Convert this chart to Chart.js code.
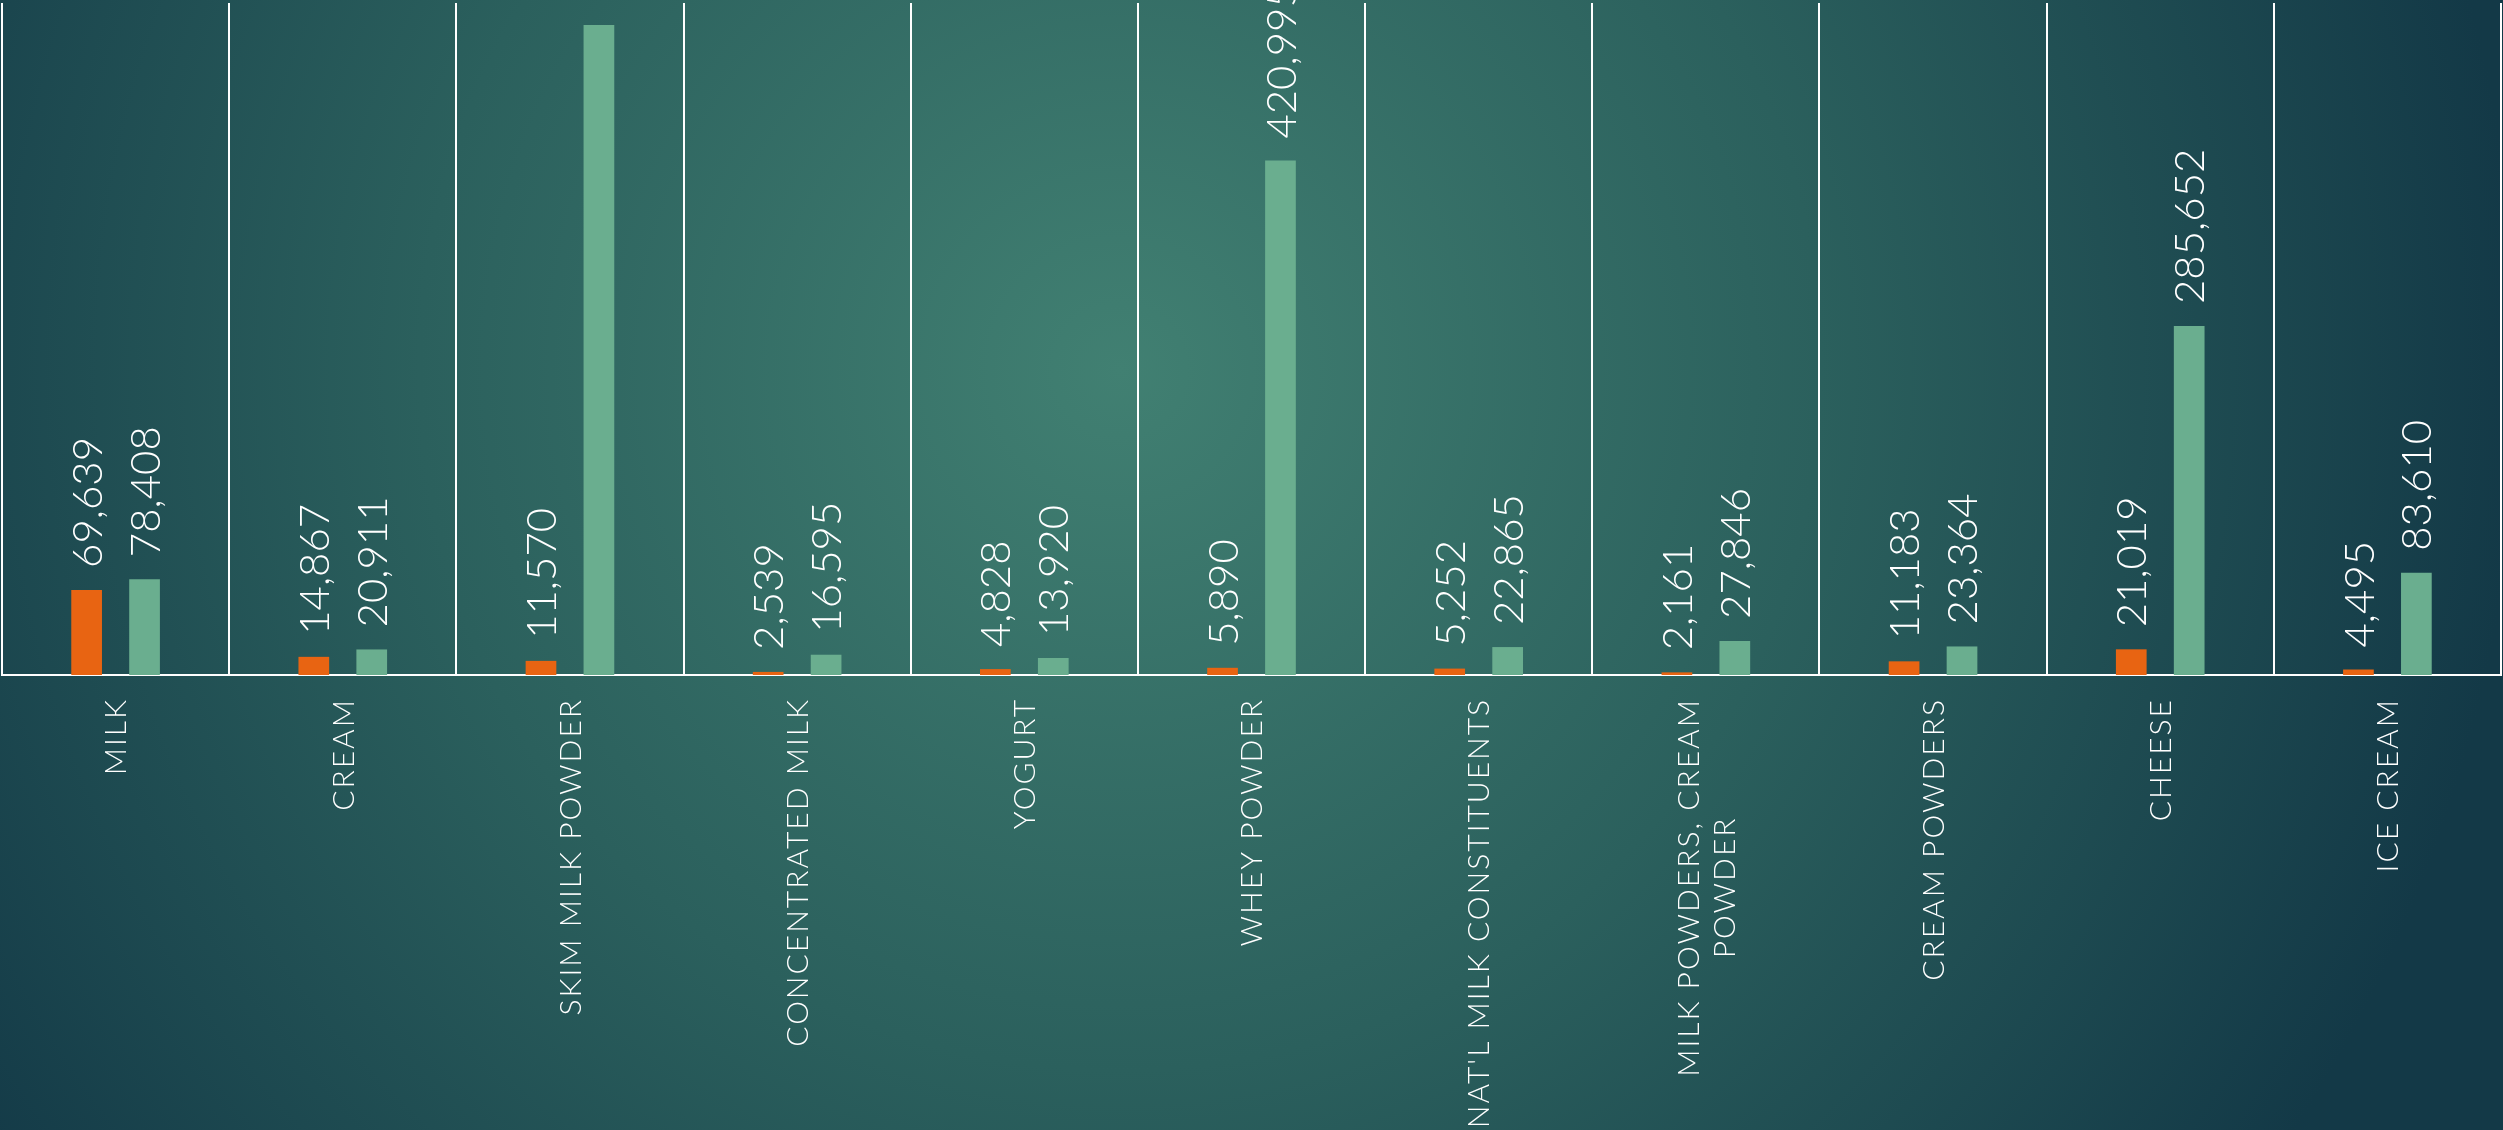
<!DOCTYPE html>
<html>
<head>
<meta charset="utf-8">
<script src="https://cdn.jsdelivr.net/npm/chart.js@4/dist/chart.umd.min.js"></script>
<style>
  html, body { margin: 0; padding: 0; background: #1a4450; }
  canvas { display: block; }
</style>
</head>
<body>
<canvas id="myChart" width="2503" height="1130"></canvas>
<script>
// categories (multi-line label as array)
const categories = [
    'MILK',
    'CREAM',
    'SKIM MILK POWDER',
    'CONCENTRATED MILK',
    'YOGURT',
    'WHEY POWDER',
    "NAT'L MILK CONSTITUENTS",
    ['MILK POWDERS, CREAM', 'POWDER'],
    'CREAM POWDERS',
    'CHEESE',
    'ICE CREAM'
];
const series1 = [69639, 14867, 11570, 2539, 4828, 5890, 5252, 2161, 11183, 21019, 4495];
// skim milk powder label is off the picture
const series2 = [78408, 20911, 532000, 16595, 13920, 420995, 22865, 27846, 23364, 285652, 83610];
const yMax = 550000;

const orange = '#e86412';
const green = '#6aae8f';

const background = {
    id: 'background',
    beforeDraw(chart) {
        const ctx = chart.ctx;
        const g = ctx.createRadialGradient(1120, 370, 0, 1120, 370, 1400);
        g.addColorStop(0, '#418072');
        g.addColorStop(0.5, '#2b605d');
        g.addColorStop(1, '#133947');
        ctx.save();
        ctx.fillStyle = g;
        ctx.fillRect(0, 0, chart.width, chart.height);
        ctx.restore();
    }
};

const valueLabels = {
    id: 'valueLabels',
    afterDatasetsDraw(chart) {
        const ctx = chart.ctx;
        const size = 42;
        ctx.save();
        ctx.fillStyle = '#ffffff';
        ctx.font = '300 ' + size + 'px Lato';
        ctx.textAlign = 'left';
        ctx.textBaseline = 'alphabetic';
        chart.data.datasets.forEach((ds, di) => {
            chart.getDatasetMeta(di).data.forEach((bar, i) => {
                ctx.save();
                ctx.translate(bar.x, bar.y - 22);
                ctx.rotate(-Math.PI / 2);
                ctx.fillText(ds.data[i].toLocaleString('en-US'), 0, size * 0.36);
                ctx.restore();
            });
        });
        ctx.restore();
    }
};

const categoryLabels = {
    id: 'categoryLabels',
    afterDraw(chart) {
        const ctx = chart.ctx;
        const xs = chart.scales.x;
        const size = 30;
        const lineH = 36;
        ctx.save();
        ctx.fillStyle = '#ffffff';
        ctx.font = '300 ' + size + 'px Lato';
        ctx.letterSpacing = '2px';
        ctx.textAlign = 'center';
        ctx.textBaseline = 'alphabetic';
        categories.forEach((lab, i) => {
            const lines = Array.isArray(lab) ? lab : [lab];
            const maxW = Math.max(...lines.map(l => ctx.measureText(l).width));
            ctx.save();
            ctx.translate(xs.getPixelForValue(i), chart.chartArea.bottom + 23);
            ctx.rotate(-Math.PI / 2);
            lines.forEach((l, j) => {
                const off = (j - (lines.length - 1) / 2) * lineH;
                ctx.fillText(l, -maxW / 2, off + size * 0.36);
            });
            ctx.restore();
        });
        ctx.restore();
    }
};

const ctx = document.getElementById('myChart');
var chart = new Chart(ctx, {
    type: 'bar',
    data: {
        labels: categories,
        datasets: [
            {
                label: 'Series 1',
                data: series1,
                backgroundColor: orange,
                categoryPercentage: 0.51,
                barPercentage: 0.53
            },
            {
                label: 'Series 2',
                data: series2,
                backgroundColor: green,
                categoryPercentage: 0.51,
                barPercentage: 0.53
            }
        ]
    },
    options: {
        responsive: false,
        animation: false,
        devicePixelRatio: 1,
        layout: {
            padding: { top: 3, left: 2, right: 2, bottom: 455 }
        },
        plugins: {
            legend: { display: false },
            tooltip: { enabled: false }
        },
        scales: {
            x: {
                grid: {
                    color: '#ffffff',
                    lineWidth: 2,
                    offset: true,
                    drawTicks: false
                },
                border: { color: '#ffffff', width: 2 },
                ticks: { display: false }
            },
            y: {
                display: false,
                min: 0,
                max: yMax
            }
        }
    },
    plugins: [background, valueLabels, categoryLabels]
});
</script>
</body>
</html>
